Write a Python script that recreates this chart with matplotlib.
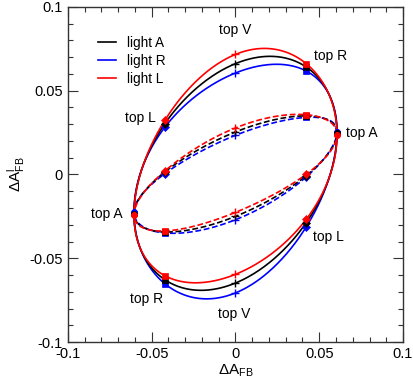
import numpy as np
import matplotlib
matplotlib.use("Agg")
import matplotlib.pyplot as plt
from matplotlib.ticker import MultipleLocator, FuncFormatter

plt.rcParams['font.family'] = ['Liberation Sans', 'DejaVu Sans']
plt.rcParams['mathtext.default'] = 'regular'
plt.rcParams['axes.unicode_minus'] = False

# point order: top A, top R, top V, top L, top A, top R, top V, top L
x_pts = [0.0606, 0.0422, 0.0, -0.0422, -0.0606, -0.0422, 0.0, 0.0422]
markers = ['o', 's', '+', 'D', 'o', 's', '+', 'D']

series = ['light A', 'light R', 'light L']
colors = ['black', 'blue', 'red']

# outer (solid) curves
y_outer_A = [0.0246, 0.0642, 0.0662, 0.0303, -0.0233, -0.0628, -0.0648, -0.0288]
y_outer_R = [0.0254, 0.0618, 0.0606, 0.0282, -0.0226, -0.0652, -0.0707, -0.0313]
y_outer_L = [0.0238, 0.0662, 0.0717, 0.0323, -0.0240, -0.0604, -0.0596, -0.0268]

# inner (dashed) curves
y_inner_A = [0.0246, 0.0350, 0.0254, 0.0015, -0.0233, -0.0343, -0.0250, -0.0007]
y_inner_R = [0.0254, 0.0341, 0.0234, 0.0005, -0.0226, -0.0349, -0.0270, -0.0015]
y_inner_L = [0.0238, 0.0357, 0.0278, 0.0021, -0.0240, -0.0337, -0.0226, 0.0001]

outer = [y_outer_A, y_outer_R, y_outer_L]
inner = [y_inner_A, y_inner_R, y_inner_L]


def trig_curve(vals, n=600):
    v = np.asarray(vals, dtype=float)
    N = len(v)
    c = np.fft.rfft(v) / N
    t = np.linspace(0, 2 * np.pi, n)
    out = np.full_like(t, c[0].real)
    for k in range(1, N // 2):
        out += 2 * (c[k] * np.exp(1j * k * t)).real
    out += c[N // 2].real * np.cos(N // 2 * t)
    return out


fig = plt.figure(figsize=(4.13, 3.82), dpi=100)
ax = fig.add_axes([0.1646, 0.1047, 0.9758 - 0.1646, 0.9817 - 0.1047])

xc = trig_curve(x_pts)
order = [1, 0, 2]  # draw blue, black, red
z = {0: 3, 1: 2, 2: 4}
for i in order:
    col = colors[i]
    ax.plot(xc, trig_curve(outer[i]), color=col, lw=1.2, zorder=z[i])
    ax.plot(xc, trig_curve(inner[i]), color=col, lw=1.2, ls=(0, (3.5, 1.6)), zorder=z[i])
    for ys in (outer[i], inner[i]):
        for xp, yp, m in zip(x_pts, ys, markers):
            ax.plot(xp, yp, marker=m, color=col, ms=5.5 if m == '+' else 4.2,
                    mew=1.0 if m == '+' else 0.5, zorder=z[i] + 5, linestyle='none')

# legend handles
handles = []
for i in range(3):
    h, = ax.plot([], [], color=colors[i], lw=1.2, label=series[i])
    handles.append(h)
ax.legend(handles=handles, loc='upper left', bbox_to_anchor=(0.057, 0.946), frameon=False,
          fontsize=9.8, handlelength=1.35, handletextpad=0.75, labelspacing=0.3,
          borderpad=0.3)

fs = 10
labels = [
    (0.0, 0.086, 'top V', 'center'),
    (0.0468, 0.0705, 'top R', 'left'),
    (-0.0478, 0.0335, 'top L', 'right'),
    (0.066, 0.0245, 'top A', 'left'),
    (-0.0672, -0.0237, 'top A', 'right'),
    (0.0465, -0.0372, 'top L', 'left'),
    (-0.0530, -0.0745, 'top R', 'center'),
    (-0.0010, -0.0832, 'top V', 'center'),
]
for xt, yt, s, ha in labels:
    ax.text(xt, yt, s, ha=ha, va='center', fontsize=fs)

ax.set_xlim(-0.1, 0.1)
ax.set_ylim(-0.1, 0.1)
ax.xaxis.set_major_locator(MultipleLocator(0.05))
ax.yaxis.set_major_locator(MultipleLocator(0.05))
ax.xaxis.set_minor_locator(MultipleLocator(0.01))
ax.yaxis.set_minor_locator(MultipleLocator(0.01))
fmt = FuncFormatter(lambda v, p: '0' if abs(v) < 1e-9 else '{:g}'.format(round(v, 3)))
ax.xaxis.set_major_formatter(fmt)
ax.yaxis.set_major_formatter(fmt)
ax.tick_params(which='both', direction='in', top=True, right=True, labelsize=10.5, color='#333333')
ax.tick_params(which='major', length=7, width=0.8)
ax.tick_params(which='minor', length=3.5, width=0.8)
for sp in ax.spines.values():
    sp.set_linewidth(1.0)
    sp.set_color('#333333')

ax.set_xlabel(r'$\Delta A_{FB}$', fontsize=11, labelpad=1)
ax.set_ylabel(r'$\Delta A^{l}_{FB}$', fontsize=11, labelpad=2)

fig.savefig('out.png', dpi=100)
